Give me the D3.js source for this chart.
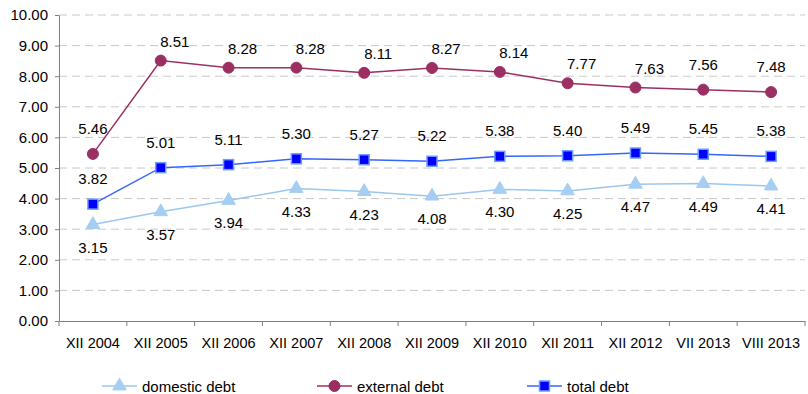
<!DOCTYPE html>
<html>
<head>
<meta charset="utf-8">
<script src="https://cdn.jsdelivr.net/npm/d3@7/dist/d3.min.js"></script>
<style>
  html, body { margin: 0; padding: 0; background: #fff; }
  svg { display: block; font-family: "Liberation Sans", Arial, sans-serif; }
</style>
</head>
<body>
<svg id="chart" width="808" height="394"></svg>
<script>
// Periods on the horizontal axis
const categories = ["XII 2004", "XII 2005", "XII 2006", "XII 2007", "XII 2008", "XII 2009",
                    "XII 2010", "XII 2011", "XII 2012", "VII 2013", "VIII 2013"];
// Series values
const domesticDebt = [3.15, 3.57, 3.94, 4.33, 4.23, 4.08, 4.30, 4.25, 4.47, 4.49, 4.41];
const externalDebt = [5.46, 8.51, 8.28, 8.28, 8.11, 8.27, 8.14, 7.77, 7.63, 7.56, 7.48];
const totalDebt    = [3.82, 5.01, 5.11, 5.30, 5.27, 5.22, 5.38, 5.40, 5.49, 5.45, 5.38];
// Y axis ticks
const yTicks = [0, 1, 2, 3, 4, 5, 6, 7, 8, 9, 10];

const series = [
  { name: "domestic debt", values: domesticDebt, line: "#99c7f2", fill: "#a6cdf2", stroke: "#a6cdf2", marker: "triangle" },
  { name: "external debt", values: externalDebt, line: "#9b2f61", fill: "#9b2f61", stroke: "#9b2f61", marker: "circle" },
  { name: "total debt",    values: totalDebt,    line: "#3366ff", fill: "#0000ff", stroke: "#6f9cff", marker: "square" }
];

// Value-label placement per series: centred below, centred above, or nudged to the upper right
function labelOffset(seriesIndex, i) {
  if (seriesIndex === 0) return [0, 28];
  if (seriesIndex === 1) return (i >= 1 && i <= 8) ? [14, -14] : [0, -20];
  return [0, -20];
}

const FONT = "'Liberation Sans', Arial, sans-serif";
const svg = d3.select("#chart");
const margin = { left: 59, right: 3, top: 15, bottom: 73 };
const W = 808, H = 394;

const x = d3.scaleBand().domain(categories).range([margin.left, W - margin.right]);
const y = d3.scaleLinear().domain([0, 10]).range([H - margin.bottom, margin.top]);

// Dashed horizontal gridlines
svg.append("g").selectAll("line").data(yTicks.filter(d => d > 0)).join("line")
  .attr("x1", margin.left).attr("x2", W - margin.right)
  .attr("y1", d => y(d)).attr("y2", d => y(d))
  .attr("stroke", "#c8c8c8").attr("stroke-width", 1).attr("stroke-dasharray", "8,5");

// Y axis
const yAxis = svg.append("g").attr("transform", `translate(${margin.left},0)`)
  .call(d3.axisLeft(y).tickValues(yTicks).tickFormat(d3.format(".2f")).tickSize(4).tickSizeOuter(0));
yAxis.attr("font-size", null).attr("font-family", null);
yAxis.select(".domain").attr("stroke", "#808080");
yAxis.selectAll(".tick line").attr("stroke", "#808080");
yAxis.selectAll(".tick text").style("font-size", "15px").style("font-family", FONT)
  .attr("fill", "#000").attr("x", -11);

// X axis with tick marks at band boundaries
const xAxis = svg.append("g").attr("transform", `translate(0,${y(0)})`)
  .call(d3.axisBottom(x).tickSize(0).tickSizeOuter(0));
xAxis.attr("font-size", null).attr("font-family", null);
xAxis.select(".domain").attr("stroke", "#808080");
xAxis.selectAll(".tick text").style("font-size", "14.5px").style("font-family", FONT)
  .attr("fill", "#000").attr("dy", 24);
const bounds = categories.map(c => x(c)).concat([x(categories[categories.length - 1]) + x.bandwidth()]);
svg.append("g").selectAll("line").data(bounds).join("line")
  .attr("x1", d => d).attr("x2", d => d)
  .attr("y1", y(0)).attr("y2", y(0) + 5)
  .attr("stroke", "#808080");

const cx = c => x(c) + x.bandwidth() / 2;

function drawMarker(g, type, px, py, s) {
  if (type === "circle") {
    g.append("circle").attr("cx", px).attr("cy", py).attr("r", 5.5)
      .attr("fill", s.fill).attr("stroke", s.stroke);
  } else if (type === "square") {
    g.append("rect").attr("x", px - 5).attr("y", py - 5).attr("width", 10).attr("height", 10)
      .attr("fill", s.fill).attr("stroke", s.stroke).attr("stroke-width", 1.5);
  } else {
    const sym = d3.symbol().type(d3.symbolTriangle).size(80);
    g.append("path").attr("d", sym()).attr("transform", `translate(${px},${py})`)
      .attr("fill", s.fill).attr("stroke", s.stroke);
  }
}

const line = d3.line().x((d, i) => cx(categories[i])).y(d => y(d));

series.forEach((s, si) => {
  const g = svg.append("g");
  g.append("path").datum(s.values).attr("d", line)
    .attr("fill", "none").attr("stroke", s.line).attr("stroke-width", 1.5);
  s.values.forEach((v, i) => drawMarker(g, s.marker, cx(categories[i]), y(v), s));
  g.selectAll("text").data(s.values).join("text")
    .attr("x", (d, i) => cx(categories[i]) + labelOffset(si, i)[0])
    .attr("y", (d, i) => y(d) + labelOffset(si, i)[1])
    .attr("text-anchor", "middle").style("font-size", "15px").style("font-family", FONT)
    .attr("fill", "#000")
    .text(d => d.toFixed(2));
});

// Legend
const legendX = [102, 317, 527];
const legendY = 386;
series.forEach((s, i) => {
  const g = svg.append("g");
  const lx = legendX[i];
  g.append("line").attr("x1", lx).attr("x2", lx + 35).attr("y1", legendY).attr("y2", legendY)
    .attr("stroke", s.line).attr("stroke-width", 1.5);
  drawMarker(g, s.marker, lx + 17.5, legendY, s);
  g.append("text").attr("x", lx + 40).attr("y", legendY + 5.5)
    .style("font-size", "15px").style("font-family", FONT).attr("fill", "#000")
    .text(s.name);
});
</script>
</body>
</html>
